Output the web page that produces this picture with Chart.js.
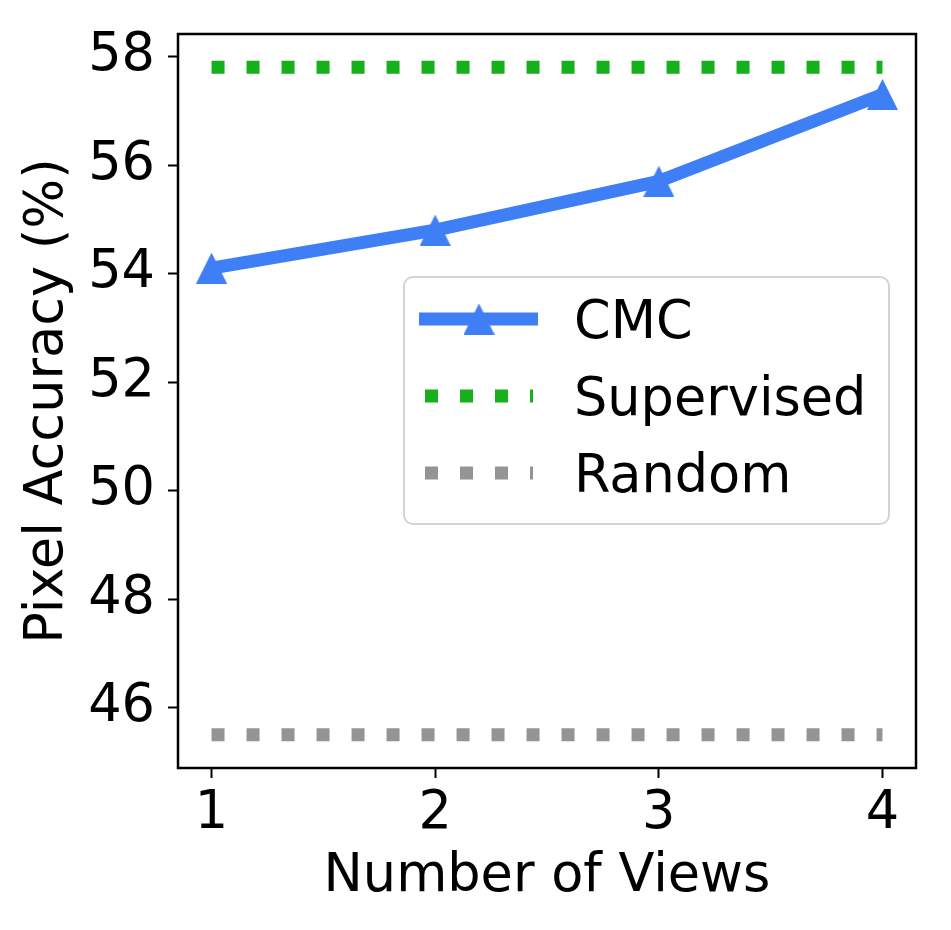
<!DOCTYPE html>
<html>
<head>
<meta charset="utf-8">
<script src="https://cdn.jsdelivr.net/npm/chart.js@4.4.1/dist/chart.umd.min.js"></script>
<style>
  html, body { margin: 0; padding: 0; background: #fff; }
  #wrap { width: 951px; height: 930px; }
</style>
</head>
<body>
<div id="wrap"><canvas id="myChartViews" width="951" height="930"></canvas></div>
<script>
// Datos
const views = [1, 2, 3, 4];
const cmcAccuracy = [54.1, 54.8, 55.7, 57.3];
const supervisedAccuracy = [57.8, 57.8, 57.8, 57.8];
const randomAccuracy = [45.5, 45.5, 45.5, 45.5];
const xTicks = [1, 2, 3, 4];
const yTicks = [46, 48, 50, 52, 54, 56, 58];

const BLUE = "#3f7ff6";
const GREEN = "#15b01a";
const GREY = "#949494";
const FONT = { family: "DejaVu Sans", size: 52.5 };

// triangulo tipo matplotlib '^'
function triangleMarker(size, color) {
  const c = document.createElement("canvas");
  c.width = size;
  c.height = size;
  const g = c.getContext("2d");
  g.fillStyle = color;
  g.beginPath();
  g.moveTo(size / 2, 0);
  g.lineTo(size, size);
  g.lineTo(0, size);
  g.closePath();
  g.fill();
  return c;
}

const marker = triangleMarker(31, BLUE);

function toPoints(values) {
  return views.map(function (v, i) {
    return { x: v, y: values[i] };
  });
}

// marco + leyenda dentro del area
const frameAndLegend = {
  id: "frameAndLegend",
  afterDraw(chart) {
    const ctx = chart.ctx;
    const a = chart.chartArea;
    ctx.save();
    ctx.strokeStyle = "#000";
    ctx.lineWidth = 2.5;
    ctx.strokeRect(a.left, a.top, a.right - a.left, a.bottom - a.top);

    // caja
    const bx = a.left + 226, by = a.top + 243, bw = 485, bh = 247, r = 9;
    ctx.beginPath();
    ctx.moveTo(bx + r, by);
    ctx.arcTo(bx + bw, by, bx + bw, by + bh, r);
    ctx.arcTo(bx + bw, by + bh, bx, by + bh, r);
    ctx.arcTo(bx, by + bh, bx, by, r);
    ctx.arcTo(bx, by, bx + bw, by, r);
    ctx.closePath();
    ctx.fillStyle = "rgba(255,255,255,0.8)";
    ctx.fill();
    ctx.strokeStyle = "#d4d4d4";
    ctx.lineWidth = 2;
    ctx.stroke();

    chart.data.datasets.forEach(function (ds, i) {
      const cy = by + 42 + i * 77;
      ctx.save();
      ctx.strokeStyle = ds.borderColor;
      ctx.lineWidth = ds.borderWidth;
      ctx.lineCap = "butt";
      ctx.setLineDash(ds.borderDash || []);
      ctx.beginPath();
      if (ds.borderDash) {
        ctx.moveTo(bx + 21, cy);
        ctx.lineTo(bx + 129, cy);
      } else {
        ctx.moveTo(bx + 15, cy);
        ctx.lineTo(bx + 134, cy);
      }
      ctx.stroke();
      ctx.restore();
      if (ds.pointStyle && ds.pointRadius > 0) {
        const m = ds.pointStyle;
        ctx.drawImage(m, bx + 75 - m.width / 2, cy - m.height / 2);
      }
      ctx.fillStyle = "#000";
      ctx.font = FONT.size + "px " + FONT.family;
      ctx.textAlign = "left";
      ctx.textBaseline = "alphabetic";
      ctx.fillText(ds.label, bx + 170, cy + 19);
    });
    ctx.restore();
  }
};

const ctxViews = document.getElementById("myChartViews").getContext("2d");

const myChartViews = new Chart(ctxViews, {
  type: "line",
  data: {
    datasets: [
      {
        label: "CMC",
        data: toPoints(cmcAccuracy),
        borderColor: BLUE,
        backgroundColor: BLUE,
        borderWidth: 13,
        borderJoinStyle: "round",
        borderCapStyle: "butt",
        pointStyle: marker,
        pointRadius: 15,
        tension: 0,
      },
      {
        label: "Supervised",
        data: toPoints(supervisedAccuracy),
        borderColor: GREEN,
        borderWidth: 13,
        borderDash: [13, 22],
        borderCapStyle: "butt",
        pointRadius: 0,
      },
      {
        label: "Random",
        data: toPoints(randomAccuracy),
        borderColor: GREY,
        borderWidth: 13,
        borderDash: [13, 22],
        borderCapStyle: "butt",
        pointRadius: 0,
      },
    ],
  },
  options: {
    responsive: false,
    animation: false,
    devicePixelRatio: 1,
    layout: { padding: { top: 34, right: 35, left: 0, bottom: 0 } },
    plugins: {
      legend: { display: false },
      tooltip: { enabled: false },
    },
    scales: {
      x: {
        type: "linear",
        min: 0.85,
        max: 4.15,
        afterBuildTicks: function (s) {
          s.ticks = xTicks.map(function (v) { return { value: v }; });
        },
        afterFit: function (s) {
          s.height = 162;
          s.paddingLeft = 0;
          s.paddingRight = 0;
        },
        grid: { drawOnChartArea: false, drawTicks: true, tickLength: 10, tickWidth: 2, tickColor: "#000" },
        border: { display: false },
        ticks: { color: "#000", font: FONT, padding: 5, maxRotation: 0 },
        title: {
          display: true,
          text: "Number of Views",
          color: "#000",
          font: FONT,
          padding: { top: 0, bottom: 21 },
        },
      },
      y: {
        type: "linear",
        min: 44.885,
        max: 58.415,
        afterBuildTicks: function (s) {
          s.ticks = yTicks.map(function (v) { return { value: v }; });
        },
        afterFit: function (s) {
          s.width = 178;
          s.paddingTop = 0;
          s.paddingBottom = 0;
        },
        grid: { drawOnChartArea: false, drawTicks: true, tickLength: 10, tickWidth: 2, tickColor: "#000" },
        border: { display: false },
        ticks: { color: "#000", font: FONT, padding: 13 },
        title: {
          display: true,
          text: "Pixel Accuracy (%)",
          color: "#000",
          font: FONT,
          padding: { top: 17, bottom: 0 },
        },
      },
    },
  },
  plugins: [frameAndLegend],
});
</script>
</body>
</html>
